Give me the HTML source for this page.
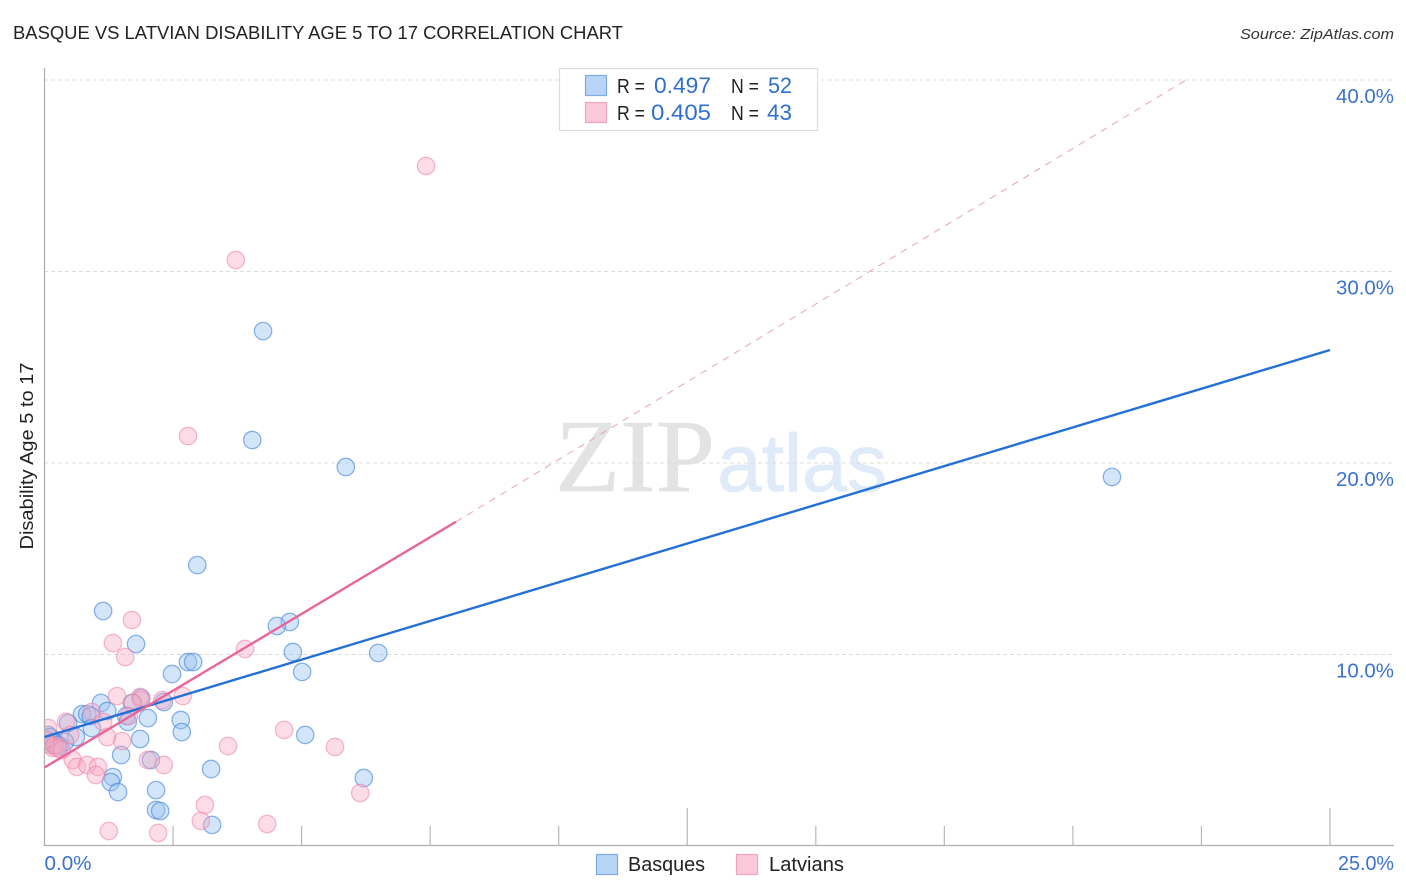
<!DOCTYPE html>
<html lang="en">
<head>
<meta charset="utf-8">
<title>Basque vs Latvian Disability Age 5 to 17 Correlation Chart</title>
<style>
html,body{margin:0;padding:0;background:#fff;width:1406px;height:892px;overflow:hidden}
svg{display:block;font-family:"Liberation Sans",sans-serif}
</style>
</head>
<body>
<svg id="chart" xmlns="http://www.w3.org/2000/svg" width="1406" height="892" viewBox="0 0 1406 892">
  <defs><clipPath id="plot-clip"><rect x="45" y="60" width="1349" height="785"/></clipPath></defs>
  <rect x="0" y="0" width="1406" height="892" fill="#ffffff"/>
  <text x="13" y="39" font-size="18" fill="#222222" textLength="610" lengthAdjust="spacingAndGlyphs">BASQUE VS LATVIAN DISABILITY AGE 5 TO 17 CORRELATION CHART</text>
  <text x="1394" y="39" font-size="15" font-style="italic" fill="#333333" text-anchor="end" textLength="154" lengthAdjust="spacingAndGlyphs">Source: ZipAtlas.com</text>
  <g id="watermark">
    <text x="555" y="491" font-family="'Liberation Serif',serif" font-size="104" fill="#e3e3e3" stroke="#e3e3e3" stroke-width="0.6" textLength="160" lengthAdjust="spacingAndGlyphs">ZIP</text>
    <text x="717" y="491" font-size="82" fill="#e0ebf9" stroke="#e0ebf9" stroke-width="0.8" textLength="170" lengthAdjust="spacingAndGlyphs">atlas</text>
  </g>
  <g id="grid"></g>
  <g id="axes"></g>
  <g id="marks" clip-path="url(#plot-clip)"></g>
  <g id="trends"></g>
  <text transform="translate(33,456) rotate(-90)" font-size="18" fill="#222222" text-anchor="middle" textLength="187" lengthAdjust="spacingAndGlyphs">Disability Age 5 to 17</text>

  <g>
    <rect x="559.5" y="68.5" width="258" height="62" fill="#ffffff" stroke="#dddddd" stroke-width="1.2"/>
    <rect x="585.5" y="75.5" width="21" height="20" fill="#b8d4f7" stroke="#7fabe3" stroke-width="1.2"/>
    <rect x="585.5" y="102.5" width="21" height="20" fill="#fcc9da" stroke="#f2a5bd" stroke-width="1.2"/>
    <text x="617" y="93" font-size="20" fill="#222222" textLength="28" lengthAdjust="spacingAndGlyphs">R =</text>
    <text x="711" y="93" font-size="22" fill="#2f6fd0" text-anchor="end" textLength="57" lengthAdjust="spacingAndGlyphs">0.497</text>
    <text x="731" y="93" font-size="20" fill="#222222" textLength="28" lengthAdjust="spacingAndGlyphs">N =</text>
    <text x="792" y="93" font-size="22" fill="#2f6fd0" text-anchor="end" textLength="24" lengthAdjust="spacingAndGlyphs">52</text>
    <text x="617" y="120" font-size="20" fill="#222222" textLength="28" lengthAdjust="spacingAndGlyphs">R =</text>
    <text x="711" y="120" font-size="22" fill="#2f6fd0" text-anchor="end" textLength="60" lengthAdjust="spacingAndGlyphs">0.405</text>
    <text x="731" y="120" font-size="20" fill="#222222" textLength="28" lengthAdjust="spacingAndGlyphs">N =</text>
    <text x="792" y="120" font-size="22" fill="#2f6fd0" text-anchor="end" textLength="25" lengthAdjust="spacingAndGlyphs">43</text>
  </g>

  <g>
    <rect x="596.5" y="854.5" width="21" height="20" fill="#b8d4f7" stroke="#7fabe3" stroke-width="1.2"/>
    <text x="628" y="871" font-size="20" fill="#222222" textLength="77" lengthAdjust="spacingAndGlyphs">Basques</text>
    <rect x="736.5" y="854.5" width="21" height="20" fill="#fcc9da" stroke="#f2a5bd" stroke-width="1.2"/>
    <text x="769" y="871" font-size="20" fill="#222222" textLength="75" lengthAdjust="spacingAndGlyphs">Latvians</text>
  </g>
</svg>
<script>
var yTicks = [10, 20, 30, 40];
var yTickLabels = ['10.0%', '20.0%', '30.0%', '40.0%'];
var xTicks = [2.5, 5, 7.5, 10, 12.5, 15, 17.5, 20, 22.5, 25];
var xMajorTicks = [12.5, 25];
var xEndLabels = ['0.0%', '25.0%'];
var xDomain = [0, 25];

var basquesX = [4.25,4.04,5.86,20.76,2.97,1.14,1.78,4.77,4.52,4.83,6.49,2.79,2.89,5.01,2.48,1.10,1.88,2.32,1.70,1.22,0.73,0.83,0.90,1.59,2.01,2.65,1.62,0.92,2.67,0.46,5.07,1.86,0.61,1.49,2.07,3.24,6.21,1.33,1.29,1.43,2.17,2.17,2.25,3.26,0.10,0.20,0.30,0.11,0.18,0.40,0.07,0.26];
var basquesY = [26.89,21.20,19.79,19.27,14.67,12.27,10.55,11.70,11.49,10.13,10.08,9.61,9.61,9.09,8.98,7.47,7.73,7.52,7.47,7.05,6.89,6.89,6.79,6.79,6.68,6.58,6.48,6.16,5.95,6.42,5.80,5.59,5.69,4.75,4.49,4.02,3.55,3.60,3.34,2.82,2.92,1.88,1.83,1.10,5.69,5.43,5.22,5.69,5.27,5.43,5.80,5.27];

var latviansX = [7.42,3.72,2.79,1.70,1.33,1.57,3.90,1.41,1.86,1.88,2.69,2.29,1.72,1.64,0.92,1.14,0.42,1.22,1.51,4.66,3.57,5.65,2.01,2.32,0.55,0.63,0.83,1.04,1.00,6.14,3.12,3.04,4.33,1.25,2.21,0.07,0.11,0.17,0.20,0.26,0.34,0.50,0.02];
var latviansY = [35.51,30.60,21.41,11.80,10.60,9.87,10.29,7.83,7.78,7.62,7.83,7.62,7.47,6.79,7.00,6.48,6.48,5.69,5.48,6.06,5.22,5.17,4.49,4.23,4.49,4.13,4.23,4.13,3.71,2.77,2.14,1.31,1.15,0.78,0.68,6.16,5.27,5.12,5.27,5.12,5.01,5.80,5.54];

var basquesTrendY = [5.69, 25.9];
var latviansTrendX = [0, 8.0, 22.2];
var latviansTrendY = [4.1, 16.93, 40];

function xScale(v) { return 44.5 + v * 51.42; }
function yScale(v) { return 846 - v * 19.15; }

var NS = 'http://www.w3.org/2000/svg';
function make(parent, tag, props) {
  var el = document.createElementNS(NS, tag);
  for (var k in props) { el.setAttribute(k, props[k]); }
  parent.appendChild(el);
  return el;
}

var grid = document.getElementById('grid');
var axes = document.getElementById('axes');
var marks = document.getElementById('marks');
var trends = document.getElementById('trends');










yTicks.forEach(function (t, i) {
  var gl = make(grid, 'line', {x1: 44, x2: 1394, y1: yScale(t), y2: yScale(t), stroke: '#dcdcdc', 'stroke-width': 1, 'stroke-dasharray': '4 3'});
  
  
  var lb = make(axes, 'text', {x: 1394, y: yScale(t) + 23, 'font-size': 20, fill: '#3a72d2', 'text-anchor': 'end', textLength: 58, lengthAdjust: 'spacingAndGlyphs'});
  lb.textContent = yTickLabels[i];
  
  
});

var yAxis = make(axes, 'line', {x1: 44.5, x2: 44.5, y1: 68, y2: 846, stroke: '#b0b0b0', 'stroke-width': 1.3});


var xAxis = make(axes, 'line', {x1: 44, x2: 1394, y1: 845.5, y2: 845.5, stroke: '#b0b0b0', 'stroke-width': 1.3});



xTicks.forEach(function (t) {
  var isMajor = xMajorTicks.indexOf(t) >= 0;
  var tk = make(axes, 'line', {x1: xScale(t), x2: xScale(t), y1: isMajor ? 808 : 826, y2: 845.5, stroke: '#b8b8b8', 'stroke-width': 1.2});
  
  
});

var xLabelStart = make(axes, 'text', {x: xScale(xDomain[0]), y: 870, 'font-size': 20, fill: '#3a72d2', textLength: 47, lengthAdjust: 'spacingAndGlyphs'});
xLabelStart.textContent = xEndLabels[0];


var xLabelEnd = make(axes, 'text', {x: 1394, y: 870, 'font-size': 20, fill: '#3a72d2', 'text-anchor': 'end', textLength: 56, lengthAdjust: 'spacingAndGlyphs'});
xLabelEnd.textContent = xEndLabels[1];



basquesX.forEach(function (v, i) {
  var c = make(marks, 'circle', {cx: xScale(v), cy: yScale(basquesY[i]), r: 8.7, fill: 'rgba(150,192,240,0.42)', stroke: 'rgba(70,135,220,0.62)', 'stroke-width': 1.3});
  
  
});
latviansX.forEach(function (v, i) {
  var c = make(marks, 'circle', {cx: xScale(v), cy: yScale(latviansY[i]), r: 8.7, fill: 'rgba(248,170,195,0.4)', stroke: 'rgba(236,130,165,0.55)', 'stroke-width': 1.3});
  
  
});

var ext = make(trends, 'line', {x1: xScale(latviansTrendX[1]), y1: yScale(latviansTrendY[1]), x2: xScale(latviansTrendX[2]), y2: yScale(latviansTrendY[2]), stroke: '#e8a3ba', 'stroke-width': 1, 'stroke-dasharray': '7 6'});


var bt = make(trends, 'line', {x1: xScale(xDomain[0]), y1: yScale(basquesTrendY[0]), x2: xScale(xDomain[1]), y2: yScale(basquesTrendY[1]), stroke: '#2470d8', 'stroke-width': 2.4});


var lt = make(trends, 'line', {x1: xScale(latviansTrendX[0]), y1: yScale(latviansTrendY[0]), x2: xScale(latviansTrendX[1]), y2: yScale(latviansTrendY[1]), stroke: '#e8669a', 'stroke-width': 2.4});


</script>
</body>
</html>
